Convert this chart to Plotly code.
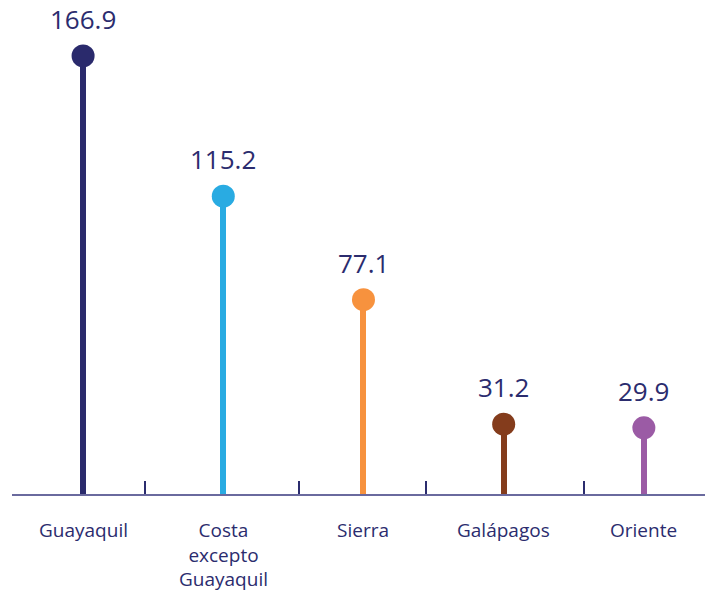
import plotly.graph_objects as go

categories = ["Guayaquil", "Costa<br>excepto<br>Guayaquil", "Sierra", "Galápagos", "Oriente"]
values = [166.9, 115.2, 77.1, 31.2, 29.9]
colors = ["#2a2a6c", "#29abe2", "#f7923e", "#843c1c", "#9b5ba5"]
tick_positions = [-0.507, 0.443, 1.543, 2.443, 3.571]

TEXT = "#2b2c6e"
FONT = "Open Sans"
xs = list(range(len(categories)))

fig = go.Figure()
fig.add_trace(go.Bar(
    x=xs, y=values, width=0.043,
    marker=dict(color=colors, line=dict(width=0)),
    hoverinfo="skip", showlegend=False,
))
fig.add_trace(go.Scatter(
    x=xs, y=values, mode="markers",
    marker=dict(color=colors, size=23, line=dict(width=0)),
    showlegend=False, cliponaxis=False,
))

for x, v in zip(xs, values):
    fig.add_annotation(x=x, y=v, text=f"{v:.1f}", showarrow=False,
                       yanchor="middle", yshift=37,
                       font=dict(family=FONT, size=26, color=TEXT))

for x, c in zip(xs, categories):
    fig.add_annotation(x=x, y=0, yref="paper", text=c, showarrow=False,
                       yanchor="top", yshift=-22, borderpad=0,
                       font=dict(family=FONT, size=19, color=TEXT))

fig.update_layout(
    width=705, height=594,
    margin=dict(l=12, r=0, t=0, b=100),
    plot_bgcolor="white", paper_bgcolor="white",
    bargap=0,
    xaxis=dict(range=[-0.507, 4.436], tickvals=tick_positions, showticklabels=False,
               ticks="inside", ticklen=13, tickwidth=2, tickcolor=TEXT,
               showline=True, linecolor="#6a6a9e", linewidth=2,
               showgrid=False, zeroline=False, fixedrange=True),
    yaxis=dict(range=[5.5, 187.5], visible=False, showgrid=False, zeroline=False),
    font=dict(family=FONT, color=TEXT),
)

fig.write_html("out.html", config={"displayModeBar": False},
               post_script="document.body.style.margin='0';")
